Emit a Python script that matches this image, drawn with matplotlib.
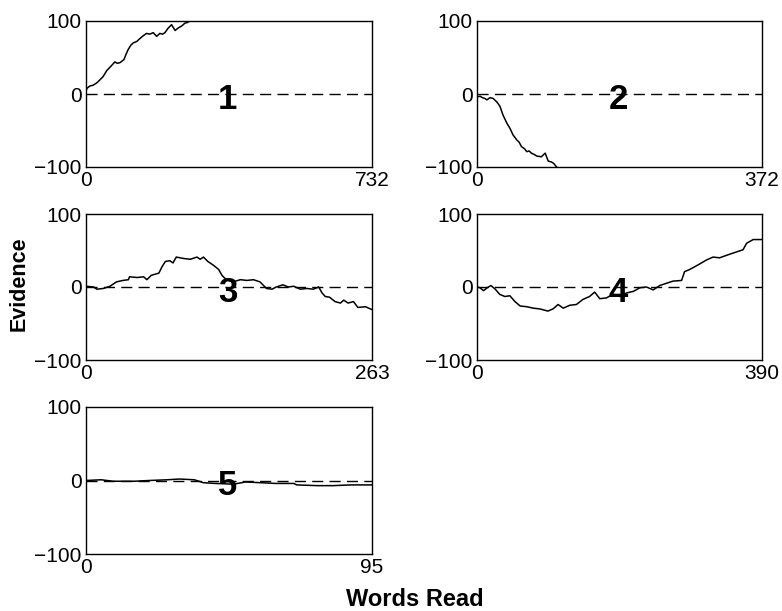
import matplotlib; matplotlib.use('agg')
import matplotlib.pyplot as plt

plt.rcParams['font.family'] = ['Liberation Sans', 'DejaVu Sans']

# evidence curves (words read, evidence)
x1 = [0, 3, 10, 18, 27, 35, 44, 53, 62, 74, 80, 87, 97, 103, 108, 115, 121, 130, 138, 147, 155, 163, 172, 181, 189, 196, 202, 210, 219, 228, 235, 241, 247, 253, 260, 266]
y1 = [5, 8, 11, 12, 15, 19, 24, 32, 37, 44, 42, 43, 47, 55, 61, 67, 70, 72, 76, 80, 83, 82, 84, 79, 83, 82, 84, 90, 95, 87, 90, 92, 94, 97, 98, 100]

x2 = [0, 4, 7, 10, 13, 17, 21, 26, 30, 34, 39, 43, 47, 52, 55, 58, 62, 65, 68, 71, 75, 78, 84, 89, 93, 97, 100, 104]
y2 = [-4, -3, -5, -6, -8, -5, -6, -11, -17, -29, -40, -47, -56, -63, -66, -72, -75, -79, -78, -81, -83, -85, -86, -81, -92, -93, -95, -100]

x3 = [0, 7, 10, 16, 22, 28, 34, 39, 40, 47, 53, 56, 60, 67, 70, 73, 77, 80, 83, 90, 96, 102, 105, 108, 112, 117, 122, 125, 129, 135, 142, 148, 154, 160, 166, 171, 175, 181, 186, 191, 197, 203, 209, 214, 217, 220, 224, 229, 234, 237, 241, 246, 250, 257, 263]
y3 = [1, 0, -3, -2, 1, 7, 9, 10, 14, 13, 14, 10, 16, 19, 28, 35, 36, 33, 41, 39, 38, 41, 38, 41, 35, 30, 24, 16, 10, 7, 10, 9, 10, 7, -2, -3, 0, 3, 0, 1, -3, -2, -3, 0, -8, -13, -14, -20, -22, -18, -22, -20, -28, -27, -31]

x4 = [0, 4, 9, 14, 19, 25, 31, 38, 45, 52, 59, 68, 77, 86, 97, 104, 111, 118, 127, 136, 145, 154, 161, 168, 177, 186, 195, 205, 214, 223, 232, 241, 250, 259, 268, 280, 284, 291, 302, 314, 323, 332, 346, 364, 369, 378, 390]
y4 = [0, -1, -5, -1, 2, -3, -10, -13, -12, -20, -26, -27, -29, -30, -33, -30, -24, -29, -25, -24, -17, -13, -7, -16, -15, -10, -13, -8, -6, -1, 0, -4, 2, 5, 8, 9, 21, 24, 30, 37, 41, 40, 45, 51, 60, 65, 65]

x5 = [0, 5, 9, 16, 21, 27, 31, 36, 39, 43, 49, 53, 58, 63, 69, 70, 77, 82, 88, 95]
y5 = [0, 1, -1, -1, 0, 1, 2, 1, -3, -4, -5, -2, -3, -4, -4, -6, -7, -7, -6, -6]

xs = [x1, x2, x3, x4, x5]
ys = [y1, y2, y3, y4, y5]
xmax = [732, 372, 263, 390, 95]
names = ['1', '2', '3', '4', '5']

W, H = 782, 611
boxes = [(86, 21, 286, 146), (477, 21, 285, 146),
         (86, 214, 286, 146), (477, 214, 285, 146),
         (86, 407, 286, 147)]

fig = plt.figure(figsize=(W / 100, H / 100), dpi=100)

for i in range(5):
    l, t, w, h = boxes[i]
    ax = fig.add_axes([l / W, 1 - (t + h) / H, w / W, h / H])
    ax.plot(xs[i], ys[i], color='black', lw=1.1)
    ax.axhline(0, color='black', lw=1, dashes=(8, 4.5))
    ax.set_xlim(0, xmax[i])
    ax.set_ylim(-100, 100)
    ax.set_xticks([0, xmax[i]])
    ax.set_yticks([-100, 0, 100])
    ax.set_yticklabels(['\u2212100', '0', '100'])
    ax.tick_params(length=0, labelsize=15, pad=3)
    for s in ax.spines.values():
        s.set_linewidth(1)
    ax.text(0.495, 0.40, names[i], transform=ax.transAxes, ha='center', va='baseline',
            fontsize=25, fontweight='bold')

fig.text(19.5 / W, 1 - 284 / H, 'Evidence', rotation=90, ha='center', va='center',
         fontsize=15.5, fontweight='bold')
fig.text(415 / W, 1 - 599 / H, 'Words Read', ha='center', va='center',
         fontsize=17, fontweight='bold')

plt.savefig('out.png', dpi=100)
